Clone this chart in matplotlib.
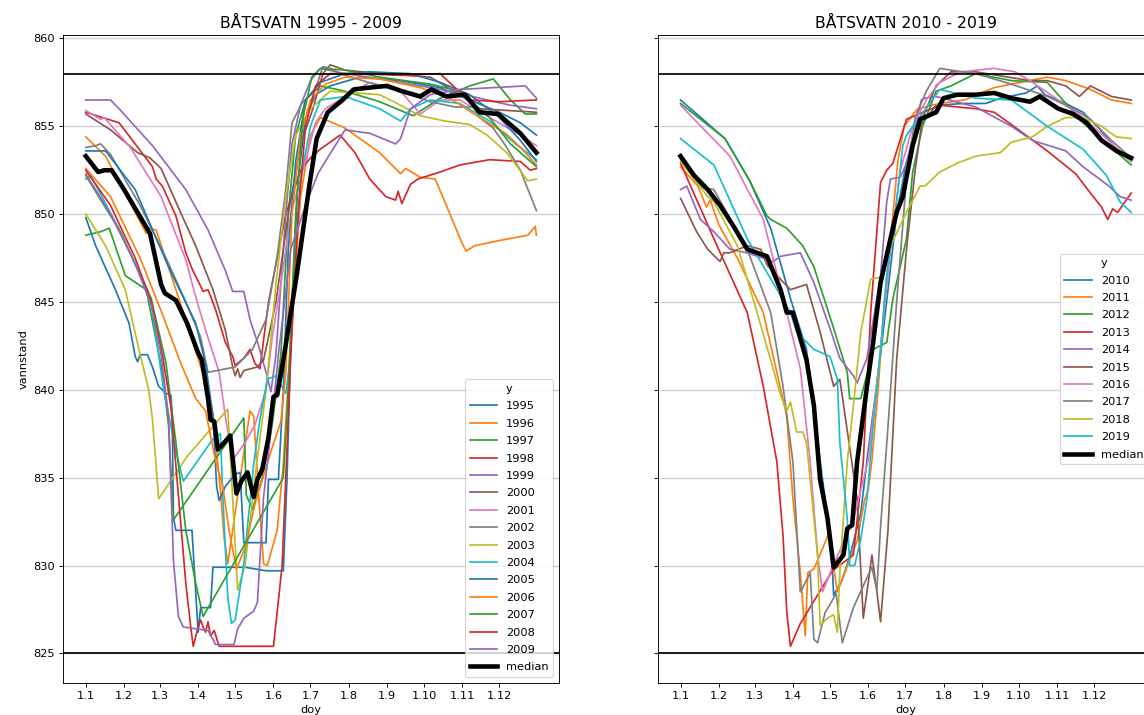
import numpy as np
import matplotlib.pyplot as plt

# water level per year, (day index, level)
y1995 = [(0, 849.8), (8, 848.2), (24, 845.7), (35, 843.8), (40, 841.9), (42, 841.6), (44, 842.0), (50, 842.0),
         (54, 841.3), (59, 840.2), (65, 839.8), (69, 839.7), (70, 838.3), (71, 832.7), (73, 832.0), (86, 832.0),
         (91, 826.2), (93, 827.6), (101, 827.6), (103, 829.9), (129, 829.9), (146, 829.7), (160, 829.7),
         (163, 835), (167, 845), (172, 852), (178, 855.5), (186, 856.8), (198, 857.3), (222, 857.8),
         (255, 857.6), (287, 857.2), (311, 856.5), (335, 855.8), (352, 855.2), (365, 854.5)]
y1996 = [(0, 854.4), (16, 853.3), (49, 848.9), (51, 849.2), (57, 849.1), (81, 844.0), (99, 840.0), (103, 838.7),
         (109, 834.3), (112, 831.6), (115, 830.1), (133, 838.8), (136, 838.5), (140, 834), (144, 830.1),
         (147, 830.0), (155, 832), (160, 835.8), (166, 843), (174, 851), (182, 854.5), (190, 855.5),
         (210, 854.9), (238, 853.5), (255, 852.3), (259, 852.6), (271, 852.1), (283, 852.0), (295, 850.0),
         (305, 848.3), (308, 847.9), (315, 848.2), (335, 848.5), (358, 848.8), (364, 849.3), (365, 848.8)]
y1997 = [(0, 848.8), (12, 849.0), (19, 849.2), (32, 846.5), (49, 845.7), (62, 841), (67, 838), (71, 832.6),
         (128, 838.4), (130, 834), (135, 833.2), (143, 835), (151, 838), (158, 842), (164, 850), (170, 854.5),
         (178, 856.5), (190, 857.3), (210, 857.0), (238, 856.4), (255, 855.9), (265, 855.6), (287, 856.6),
         (311, 857.3), (330, 857.7), (344, 856.5), (356, 855.7), (365, 855.7)]
y1998 = [(0, 855.8), (27, 855.2), (54, 852.7), (57, 852.0), (62, 851.6), (73, 849.9), (81, 847.8), (86, 846.9),
         (93, 845.9), (95, 845.6), (99, 845.7), (105, 844.6), (113, 842.7), (119, 841.9), (121, 841.4),
         (128, 841.8), (133, 842.3), (137, 841.5), (141, 841.2), (148, 845), (162, 850), (174, 852.5),
         (182, 853.2), (190, 853.7), (206, 854.5), (218, 853.5), (230, 852), (243, 851.0), (251, 850.8),
         (253, 851.3), (256, 850.6), (263, 851.7), (269, 852.0), (287, 852.4), (303, 852.8), (327, 853.1),
         (352, 853.0), (360, 852.5), (365, 852.6)]
y1999 = [(0, 856.5), (20, 856.5), (27, 856.0), (54, 853.9), (81, 851.4), (99, 849.1), (113, 846.8), (119, 845.6),
         (128, 845.6), (133, 844), (140, 842.5), (146, 841.0), (150, 839.9), (154, 842), (162, 850), (167, 854),
         (174, 856.2), (182, 857.6), (190, 858.3), (210, 858.0), (238, 857.7), (271, 857.3), (295, 857.0),
         (319, 856.6), (344, 856.2), (365, 856.0)]
y2000 = [(0, 855.7), (20, 854.8), (42, 853.5), (52, 853.2), (61, 852.6), (78, 849.9), (89, 848.2), (103, 845.7),
         (113, 843.4), (119, 841.3), (121, 840.8), (123, 841.2), (125, 840.7), (128, 841.1), (139, 841.3),
         (144, 841.7), (154, 845), (164, 850), (174, 854), (184, 856), (192, 858), (198, 858.5), (210, 858.2),
         (238, 858.0), (279, 857.8), (303, 856.8), (319, 856.0), (365, 855.8)]
y2001 = [(0, 855.9), (12, 855.4), (15, 855.5), (36, 853.8), (61, 851.0), (81, 847.4), (89, 845.3), (97, 843.4),
         (108, 841), (113, 838.5), (119, 836.0), (129, 837), (137, 838), (146, 840), (151, 843), (158, 846),
         (166, 850), (174, 852), (186, 855.2), (194, 856), (210, 856.7), (230, 857.5), (255, 857.0),
         (271, 855.7), (287, 856.5), (303, 856.5), (327, 855.5), (352, 854.5), (365, 853.9)]
y2002 = [(0, 853.8), (8, 853.9), (12, 854.0), (20, 853.4), (44, 850.5), (65, 847.5), (81, 845), (93, 843),
         (99, 841.0), (121, 841.3), (135, 842.3), (146, 844), (155, 847.6), (162, 851.4), (167, 855.2),
         (175, 856.3), (186, 857.1), (192, 858.4), (198, 858.3), (206, 858.0), (238, 857.3), (255, 857.0),
         (279, 856.4), (299, 856.1), (314, 856.1), (319, 855.5), (330, 854.9), (340, 853.9), (352, 852.5),
         (365, 850.2)]
y2003 = [(0, 850.0), (16, 848.2), (32, 845.7), (43, 842.3), (51, 840), (54, 838.3), (59, 833.8), (82, 836.2),
         (115, 838.9), (123, 828.6), (129, 830), (137, 835), (146, 840), (154, 846), (162, 851), (170, 854.5),
         (182, 856), (198, 857), (238, 856.8), (255, 856.2), (271, 855.6), (291, 855.3), (311, 855.1),
         (325, 854.5), (341, 853.5), (358, 851.9), (365, 852.0)]
y2004 = [(0, 852.0), (4, 852.2), (28, 849), (44, 846.5), (50, 845.7), (53, 845), (63, 840), (73, 836.5),
         (79, 834.8), (103, 837.2), (109, 837.5), (111, 833.9), (115, 828.2), (118, 826.7), (121, 826.9),
         (128, 830.1), (136, 835.8), (141, 838.3), (147, 840.6), (154, 840.8), (162, 839.8), (166, 842),
         (170, 848), (174, 852), (182, 855), (190, 856.5), (210, 856.7), (238, 856.0), (255, 855.3),
         (263, 856.0), (279, 856.5), (303, 856.3), (327, 855.3), (348, 854), (365, 853.1)]
y2005 = [(0, 853.6), (16, 853.6), (40, 851.4), (67, 847), (89, 843.8), (97, 841.5), (103, 838.5), (106, 834.5),
         (108, 833.7), (113, 834.5), (121, 835.2), (125, 835.3), (128, 831.3), (146, 831.3), (148, 834.9),
         (156, 834.9), (160, 840), (164, 848), (170, 853), (178, 856.5), (190, 857.5), (210, 858.0),
         (230, 858.1), (263, 858.0), (287, 857.5), (311, 856.8), (335, 855.5), (352, 854.2), (365, 853.0)]
y2006 = [(0, 852.6), (20, 851.0), (44, 847.5), (61, 844.5), (77, 841.5), (89, 839.5), (97, 838.8), (105, 836),
         (111, 834.5), (116, 832), (122, 829.8), (129, 831.0), (137, 833.5), (150, 836.5), (158, 838.2),
         (162, 841), (167, 850), (174, 854.5), (182, 856.5), (194, 857.4), (210, 857.8), (238, 857.7),
         (271, 857.2), (295, 856.6), (319, 855.5), (340, 854.6), (352, 853.8), (365, 852.8)]
y2007 = [(0, 852.2), (28, 849), (53, 845.2), (65, 841.5), (73, 837), (81, 832), (89, 829), (95, 827.1),
         (160, 835.0), (164, 840), (170, 850), (176, 855.5), (183, 857.8), (190, 858.3), (210, 858.2),
         (238, 857.8), (279, 857.4), (303, 857.0), (327, 855.5), (344, 854.0), (365, 852.7)]
y2008 = [(0, 852.5), (20, 850.5), (40, 847.5), (53, 845), (62, 842), (69, 839), (75, 834), (81, 829),
         (85, 826.5), (87, 825.4), (91, 826.5), (93, 826.9), (95, 826.5), (97, 826.2), (99, 826.8), (101, 826.0),
         (104, 826.3), (108, 825.4), (152, 825.4), (156, 828), (159, 830), (162, 835), (166, 842), (172, 850),
         (178, 855), (186, 857.3), (198, 858.0), (222, 858.0), (255, 857.9), (287, 858.0), (299, 857.2),
         (311, 856.5), (335, 856.4), (365, 856.5)]
y2009 = [(0, 852.3), (20, 850), (40, 847.2), (53, 844.8), (61, 842), (67, 838.5), (71, 830.3), (75, 827.1),
         (79, 826.5), (99, 826.3), (103, 825.8), (105, 825.5), (120, 825.5), (123, 826.4), (128, 827.0),
         (136, 827.4), (139, 827.9), (144, 833.9), (150, 837.7), (156, 842), (166, 848), (178, 850.5),
         (188, 852.3), (194, 853), (210, 854.8), (230, 854.6), (251, 854.0), (255, 854.3), (263, 856.0),
         (279, 856.8), (303, 857.1), (356, 857.3), (365, 856.6)]
median_1 = [(0, 853.3), (10, 852.4), (15, 852.5), (21, 852.5), (31, 851.4), (52, 848.9), (61, 846), (64, 845.5),
            (73, 845.1), (82, 843.8), (91, 842.1), (94, 841.7), (99, 839.5), (101, 838.3), (104, 838.2),
            (107, 836.6), (111, 836.9), (117, 837.4), (122, 834.1), (126, 834.8), (131, 835.3), (136, 833.9),
            (139, 834.9), (143, 835.5), (148, 837.3), (152, 839.6), (155, 839.7), (160, 841.7), (171, 846.6),
            (181, 851.6), (187, 854.3), (196, 855.8), (208, 856.5), (217, 857.1), (229, 857.2), (244, 857.3),
            (256, 857.0), (271, 856.7), (280, 857.1), (292, 856.7), (307, 856.8), (319, 855.8), (334, 855.7),
            (352, 854.6), (365, 853.5)]

y2010 = [(0, 856.5), (36, 854.3), (56, 851.9), (73, 849.2), (89, 845.2), (102, 842.3), (108, 839.1), (113, 836.0),
         (119, 832.7), (123, 829.8), (124, 828.3), (131, 829.2), (137, 830.5), (146, 833), (151, 836), (162, 842),
         (175, 850), (183, 853), (194, 855), (207, 856.2), (230, 856.3), (247, 856.3), (259, 856.6),
         (280, 856.9), (289, 857.3), (295, 856.8), (312, 856.3), (326, 855.8), (340, 854.8), (352, 853.8),
         (365, 853.0)]
y2011 = [(0, 852.7), (14, 851.6), (21, 850.4), (24, 850.8), (31, 849.4), (46, 847.5), (67, 844.4), (86, 838.5),
         (91, 833.8), (97, 829.6), (101, 826.0), (103, 829.6), (108, 829.8), (120, 831.8), (127, 828.5),
         (143, 831.4), (149, 833.7), (152, 834.3), (155, 836), (160, 840), (165, 845), (172, 850), (176, 853),
         (181, 855), (192, 856), (210, 856.3), (230, 856.5), (247, 857), (254, 857.2), (275, 857.5),
         (297, 857.8), (312, 857.6), (332, 857.1), (349, 856.5), (365, 856.3)]
y2012 = [(0, 856.3), (36, 854.3), (56, 851.9), (70, 849.9), (73, 849.7), (86, 849.2), (99, 848.2), (108, 847),
         (124, 843.5), (135, 841.0), (137, 839.5), (146, 839.5), (156, 842.3), (167, 842.7), (172, 845.2),
         (183, 848.6), (188, 852.4), (196, 855), (207, 857.0), (219, 857.3), (239, 858.0), (268, 857.6),
         (297, 857.5), (326, 855.2), (347, 853.9), (365, 852.8)]
y2013 = [(0, 852.9), (27, 848.6), (54, 844.4), (67, 840.2), (78, 835.9), (83, 831.7), (86, 827.4), (89, 825.4),
         (97, 826.7), (123, 829.7), (140, 830.6), (148, 835.9), (154, 844.4), (162, 851.8), (167, 852.5),
         (172, 852.9), (183, 855.4), (210, 856.2), (239, 856.0), (254, 855.8), (268, 855.1), (297, 853.6),
         (320, 852.3), (332, 851.2), (341, 850.4), (346, 849.7), (350, 850.3), (354, 850.1), (365, 851.2)]
y2014 = [(0, 851.4), (5, 851.6), (16, 849.7), (27, 849.0), (40, 848.0), (54, 847.8), (75, 847.3), (81, 847.6),
         (97, 847.8), (108, 846.1), (121, 843.5), (129, 841.8), (140, 840.8), (143, 840.4), (151, 841.8),
         (162, 846.5), (167, 850.7), (170, 852.0), (178, 852.1), (183, 852.9), (195, 856.5), (198, 856.6),
         (207, 856.7), (239, 856.1), (268, 855.0), (285, 854.2), (312, 853.6), (326, 852.7), (347, 851.6),
         (356, 851.0), (365, 850.8)]
y2015 = [(0, 850.9), (13, 849.0), (22, 848.0), (32, 847.3), (35, 847.8), (40, 847.8), (54, 848.2), (65, 848.0),
         (70, 847.1), (89, 845.7), (102, 846.0), (113, 843.3), (124, 840.2), (129, 840.6), (143, 833.8),
         (148, 827.0), (151, 828.5), (155, 830.6), (159, 828.5), (162, 826.8), (168, 832), (175, 841.7),
         (183, 848), (190, 852.5), (196, 855.5), (207, 857.3), (219, 858.1), (239, 858.1), (283, 857.6),
         (297, 857.6), (312, 857.3), (323, 856.7), (332, 857.3), (349, 856.7), (365, 856.5)]
y2016 = [(0, 856.2), (40, 853.3), (67, 849.7), (86, 844.4), (97, 841.2), (105, 835.9), (111, 830.6), (115, 828.5),
         (123, 829.9), (140, 832.6), (152, 836.0), (160, 841), (170, 848), (178, 852.5), (188, 855),
         (199, 856.5), (210, 857.5), (227, 858.1), (254, 858.3), (271, 858.1), (283, 857.6), (306, 856.5),
         (326, 855.5), (345, 854.3), (365, 853.0)]
y2017 = [(0, 853.1), (18, 851.5), (27, 851.4), (54, 848.0), (73, 844.4), (83, 840.2), (91, 835.9), (97, 828.5),
         (98, 828.6), (105, 829.6), (108, 825.8), (111, 825.6), (117, 827.3), (126, 828.4), (131, 825.6),
         (140, 827.6), (149, 829.0), (155, 829.9), (159, 828.6), (162, 832.2), (168, 837.9), (175, 845),
         (183, 852), (190, 855.5), (199, 857), (210, 858.3), (219, 858.2), (239, 858.0), (268, 857.4),
         (297, 856.7), (318, 856.0), (332, 855.4), (349, 854.2), (365, 853.2)]
y2018 = [(0, 853.0), (22, 851.0), (27, 850.7), (46, 848.2), (62, 844.4), (75, 841.2), (81, 839.7), (86, 838.8),
         (89, 839.3), (94, 837.6), (99, 837.6), (102, 837.0), (108, 832.7), (111, 830.6), (113, 826.6),
         (119, 827.0), (124, 827.2), (127, 826.2), (129, 829.6), (135, 835.9), (140, 839.1), (146, 843.3),
         (154, 846.3), (162, 846.4), (170, 848.2), (183, 850.1), (194, 851.6), (198, 851.6), (210, 852.4),
         (224, 852.9), (239, 853.3), (259, 853.5), (268, 854.1), (285, 854.4), (297, 855.0), (312, 855.5),
         (326, 855.5), (341, 855.0), (353, 854.4), (365, 854.3)]
y2019 = [(0, 854.3), (27, 852.8), (54, 848.6), (89, 844.4), (94, 843.3), (108, 842.3), (121, 841.9), (127, 840.6),
         (129, 837.0), (135, 832.7), (137, 830.0), (141, 830.0), (146, 831.5), (151, 833.8), (156, 838.0),
         (162, 842.3), (167, 846.5), (175, 850.7), (180, 853.9), (183, 854.5), (210, 857.1), (239, 856.6),
         (268, 856.5), (297, 855.0), (326, 853.7), (345, 852.2), (356, 850.7), (365, 850.1)]
median_2 = [(0, 853.3), (11, 852.2), (22, 851.4), (32, 850.5), (43, 849.3), (54, 848.0), (62, 847.8), (70, 847.6),
            (81, 845.7), (86, 844.4), (91, 844.4), (102, 841.7), (108, 839.1), (113, 834.9), (119, 832.7),
            (124, 829.9), (132, 830.6), (135, 832.1), (139, 832.3), (143, 835.9), (151, 840.2), (156, 842.7),
            (162, 846.1), (170, 848.6), (175, 850.1), (180, 851.0), (188, 853.9), (194, 855.4), (207, 855.8),
            (213, 856.6), (224, 856.8), (239, 856.8), (254, 856.9), (268, 856.6), (283, 856.4), (291, 856.7),
            (306, 856.0), (318, 855.7), (329, 855.2), (341, 854.2), (353, 853.6), (365, 853.2)]

years_1 = ["1995", "1996", "1997", "1998", "1999", "2000", "2001", "2002",
           "2003", "2004", "2005", "2006", "2007", "2008", "2009"]
data_1 = [y1995, y1996, y1997, y1998, y1999, y2000, y2001, y2002,
          y2003, y2004, y2005, y2006, y2007, y2008, y2009]
years_2 = ["2010", "2011", "2012", "2013", "2014", "2015", "2016", "2017", "2018", "2019"]
data_2 = [y2010, y2011, y2012, y2013, y2014, y2015, y2016, y2017, y2018, y2019]

tick_pos = [0, 31, 60, 91, 121, 152, 182, 213, 244, 274, 305, 335]
tick_lab = ["1.1", "1.2", "1.3", "1.4", "1.5", "1.6", "1.7", "1.8", "1.9", "1.10", "1.11", "1.12"]
hrv, lrv = 858, 825

fig = plt.figure(figsize=(1144 / 82, 715 / 82), dpi=82)
ax1 = fig.add_axes([0.0553, 0.0452, 0.4333, 0.9059])
ax2 = fig.add_axes([0.5752, 0.0452, 0.4333, 0.9059], sharey=ax1)

panels = [(ax1, years_1, data_1, median_1, "BÅTSVATN 1995 - 2009", "lower right"),
          (ax2, years_2, data_2, median_2, "BÅTSVATN 2010 - 2019", "center right")]

for ax, years, data, med, title, loc in panels:
    for name, s in zip(years, data):
        s = np.array(s)
        ax.plot(s[:, 0], s[:, 1], lw=1.5, label=name)
    m = np.array(med)
    ax.plot(m[:, 0], m[:, 1], color="black", lw=4, label="median")
    ax.axhline(hrv, color="black", lw=1.5)
    ax.axhline(lrv, color="black", lw=1.5)
    ax.grid(axis="y", color="#cfcfcf", lw=1.2)
    ax.set_axisbelow(True)
    ax.set_xticks(tick_pos)
    ax.set_xticklabels(tick_lab)
    ax.set_xlim(-18.25, 383.25)
    ax.set_xlabel("doy")
    ax.set_title(title, fontsize=13.7)
    ax.legend(title="y", loc=loc, fontsize=10, title_fontsize=10,
              handlelength=2.4, labelspacing=0.65)

ax1.set_ylim(823.33, 860.2)
ax1.set_yticks([825, 830, 835, 840, 845, 850, 855, 860])
ax1.set_ylabel("vannstand")
plt.setp(ax2.get_yticklabels(), visible=False)

fig.savefig("out.png", dpi=82)
